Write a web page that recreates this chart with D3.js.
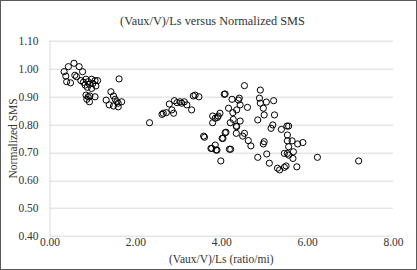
<!DOCTYPE html>
<html>
<head>
<meta charset="utf-8">
<script src="https://cdn.jsdelivr.net/npm/d3@7"></script>
<style>
	body { margin: 0; background: #fff; }
	text { font-family: 'Liberation Serif', 'Times New Roman', serif; fill: #333; }
</style>
</head>
<body>
<div id="chart"></div>
<script>
// (Vaux/V)/Ls values
const ratioValues = [
	0.57, 0.44, 0.69, 0.34, 0.77, 0.38, 0.59, 0.63, 0.40, 0.49,
	0.73, 0.79, 0.85, 0.90, 0.98, 1.06, 1.12, 0.83, 0.93, 1.01,
	1.08, 0.88, 0.98, 0.85, 0.90, 0.94, 1.06, 0.87, 0.93, 1.62,
	1.43, 1.49, 1.32, 1.53, 1.57, 1.60, 1.68, 1.39, 1.49, 1.60,
	2.33, 2.62, 2.65, 2.72, 2.79, 2.85, 2.89, 2.91, 2.97, 3.04,
	3.08, 3.14, 3.20, 3.31, 3.35, 3.39, 3.48, 3.59, 3.61, 3.78,
	3.86, 3.90, 3.99, 4.02, 4.09, 4.19, 4.22, 3.80, 3.86, 3.91,
	3.97, 3.80, 4.07, 4.25, 4.17, 4.27, 4.36, 4.21, 4.28, 4.35,
	4.40, 4.54, 4.91, 4.09, 4.42, 4.89, 4.91, 5.05, 5.22, 4.44,
	4.61, 4.98, 3.93, 5.24, 5.00, 4.85, 4.44, 4.36, 5.20, 5.16,
	5.40, 5.53, 5.57, 4.11, 4.35, 4.54, 4.50, 4.63, 4.69, 4.04,
	3.76, 3.88, 5.00, 4.98, 5.06, 4.85, 5.12, 5.54, 5.54, 5.65,
	5.78, 5.90, 5.57, 5.47, 5.54, 5.68, 5.67, 5.57, 5.31, 5.36,
	5.47, 5.51, 5.76, 6.24, 7.20
];

// Normalized SMS values, same order
const smsValues = [
	1.019, 1.007, 1.007, 0.989, 0.989, 0.973, 0.976, 0.971, 0.953, 0.949,
	0.957, 0.951, 0.962, 0.953, 0.962, 0.957, 0.957, 0.941, 0.944, 0.947,
	0.938, 0.933, 0.929, 0.905, 0.899, 0.902, 0.899, 0.890, 0.881, 0.963,
	0.917, 0.902, 0.887, 0.890, 0.881, 0.876, 0.881, 0.870, 0.866, 0.863,
	0.806, 0.836, 0.840, 0.842, 0.873, 0.852, 0.840, 0.885, 0.878, 0.881,
	0.876, 0.881, 0.870, 0.852, 0.902, 0.905, 0.899, 0.758, 0.754, 0.714,
	0.726, 0.708, 0.669, 0.750, 0.770, 0.711, 0.711, 0.830, 0.822, 0.825,
	0.840, 0.806, 0.908, 0.890, 0.858, 0.842, 0.852, 0.806, 0.818, 0.794,
	0.887, 0.939, 0.923, 0.909, 0.894, 0.894, 0.876, 0.880, 0.885, 0.870,
	0.861, 0.858, 0.830, 0.834, 0.834, 0.816, 0.812, 0.792, 0.798, 0.786,
	0.782, 0.794, 0.794, 0.772, 0.768, 0.768, 0.758, 0.742, 0.723, 0.750,
	0.714, 0.708, 0.738, 0.730, 0.694, 0.682, 0.661, 0.762, 0.741, 0.741,
	0.730, 0.735, 0.720, 0.696, 0.696, 0.702, 0.678, 0.690, 0.643, 0.637,
	0.646, 0.651, 0.648, 0.682, 0.669
];

const xTicks = [0, 2, 4, 6, 8];
const yTicks = [0.4, 0.5, 0.6, 0.7, 0.8, 0.9, 1.0, 1.1];

const points = ratioValues.map((x, i) => ({ x: x, y: smsValues[i] }));

const W = 417;
const H = 270;
const margin = { top: 40.7, right: 24, bottom: 34, left: 49.5 };
const width = W - margin.left - margin.right;
const height = H - margin.top - margin.bottom;

const svg = d3
	.select('#chart')
	.append('svg')
	.attr('width', W)
	.attr('height', H);

// outer frame
svg
	.append('rect')
	.attr('x', 0.5)
	.attr('y', 0.5)
	.attr('width', W - 1)
	.attr('height', H - 1)
	.style('fill', '#fff')
	.style('stroke', '#595959');

const g = svg.append('g').attr('transform', `translate(${margin.left}, ${margin.top})`);

const xScale = d3.scaleLinear().domain([ 0, 8 ]).range([ 0, width ]);
const yScale = d3.scaleLinear().domain([ 0.4, 1.1 ]).range([ height, 0 ]);

// horizontal gridlines
g
	.selectAll('.grid')
	.data(yTicks)
	.enter()
	.append('line')
	.attr('x1', 0)
	.attr('x2', width)
	.attr('y1', (d) => Math.round(yScale(d)) + 0.5)
	.attr('y2', (d) => Math.round(yScale(d)) + 0.5)
	.style('stroke', '#d9d9d9')
	.style('stroke-width', 1);

// vertical axis line
g
	.append('line')
	.attr('x1', 0.5)
	.attr('x2', 0.5)
	.attr('y1', 0)
	.attr('y2', height)
	.style('stroke', '#d9d9d9');

// y tick labels
const yAxis = g
	.append('g')
	.call(d3.axisLeft(yScale).tickValues(yTicks).tickFormat(d3.format('.2f')).tickSize(0).tickPadding(11));
yAxis.select('.domain').remove();
yAxis.selectAll('text').style('font-size', '11.5px').style('font-family', null).attr('fill', '#333');

// x tick labels
const xAxis = g
	.append('g')
	.attr('transform', `translate(0, ${height})`)
	.call(d3.axisBottom(xScale).tickValues(xTicks).tickFormat(d3.format('.2f')).tickSize(0).tickPadding(2));
xAxis.select('.domain').remove();
xAxis.selectAll('text').style('font-size', '11.5px').style('font-family', null).attr('fill', '#333');

// points
g
	.selectAll('.pt')
	.data(points)
	.enter()
	.append('circle')
	.attr('cx', (d) => xScale(d.x))
	.attr('cy', (d) => yScale(d.y))
	.attr('r', 3.1)
	.style('fill', 'none')
	.style('stroke', '#000')
	.style('stroke-width', 1);

// title
svg
	.append('text')
	.attr('x', W / 2 + 4)
	.attr('y', 25)
	.attr('text-anchor', 'middle')
	.style('font-size', '12.3px')
	.text('(Vaux/V)/Ls versus Normalized SMS');

// x axis title
svg
	.append('text')
	.attr('x', margin.left + width / 2)
	.attr('y', 263)
	.attr('text-anchor', 'middle')
	.style('font-size', '11.5px')
	.text('(Vaux/V)/Ls (ratio/mi)');

// y axis title
svg
	.append('text')
	.attr('transform', `translate(17, ${margin.top + height / 2}) rotate(-90)`)
	.attr('text-anchor', 'middle')
	.style('font-size', '11.5px')
	.text('Normalized SMS');
</script>
</body>
</html>
